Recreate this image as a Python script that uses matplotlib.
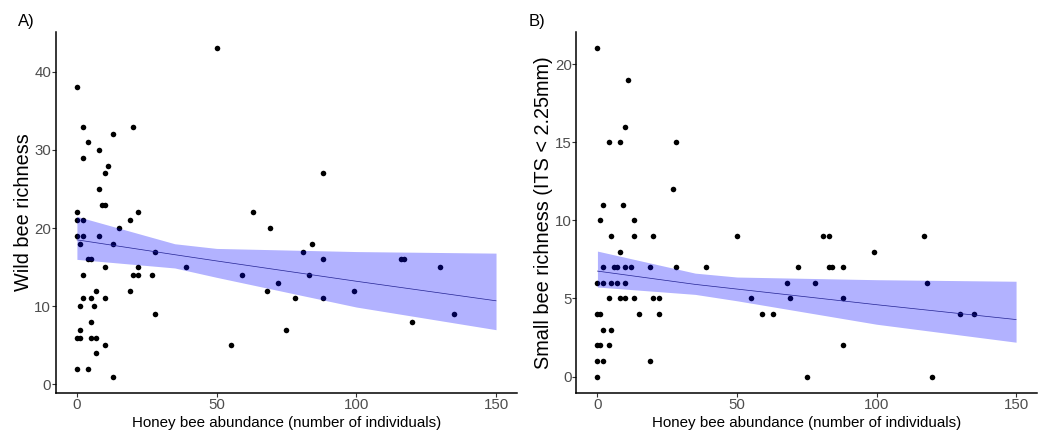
import matplotlib
matplotlib.use("Agg")
import matplotlib.pyplot as plt

plt.rcParams['font.family'] = ['Liberation Sans', 'DejaVu Sans']

# Panel A: honey bee abundance vs wild bee richness
hb_a = [50, 0, 2, 20, 13, 4, 8, 2, 11, 10, 8, 9, 10, 0, 22, 0, 2, 19, 15, 0, 2, 8,
        1, 13, 28, 4, 5, 10, 22, 39, 2, 20, 22, 27, 7, 19, 2, 5, 10, 1, 6, 28, 5,
        1, 0, 1, 5, 7, 10, 55, 7, 0, 4, 13,
        88, 63, 69, 84, 81, 88, 116, 117, 130, 59, 83, 72, 68, 99, 78, 88, 75, 135, 120]
wild = [43, 38, 33, 33, 32, 31, 30, 29, 28, 27, 25, 23, 23, 22, 22, 21, 21, 21, 20, 19, 19, 19,
        18, 18, 17, 16, 16, 15, 15, 15, 14, 14, 14, 14, 12, 12, 11, 11, 11, 10, 10, 9, 8,
        7, 6, 6, 6, 6, 5, 5, 4, 2, 2, 1,
        27, 22, 20, 18, 17, 16, 16, 16, 15, 14, 14, 13, 12, 12, 11, 11, 7, 9, 8]

# Panel B: honey bee abundance vs small bee richness
hb_b = [0, 11, 10, 4, 8, 28, 27, 2, 9, 1, 13, 5, 13, 20, 50, 8,
        2, 6, 7, 10, 12, 19, 28, 39, 0, 2, 5, 7, 10,
        4, 8, 10, 13, 20, 22, 0, 1, 15, 22, 2, 5, 0, 1, 4, 0, 2, 19, 0,
        81, 83, 117, 99, 72, 83, 84, 88, 68, 78, 118, 55, 69, 88, 59, 63, 130, 135, 88, 75, 120]
small = [21, 19, 16, 15, 15, 15, 12, 11, 11, 10, 10, 9, 9, 9, 9, 8,
         7, 7, 7, 7, 7, 7, 7, 7, 6, 6, 6, 6, 6,
         5, 5, 5, 5, 5, 5, 4, 4, 4, 4, 3, 3, 2, 2, 2, 1, 1, 1, 0,
         9, 9, 9, 8, 7, 7, 7, 7, 6, 6, 6, 5, 5, 5, 4, 4, 4, 4, 2, 0, 0]

# model predictions with confidence band
pred_x = [0, 35, 50, 100, 150]
fit_a = [18.5, 16.6, 15.8, 13.2, 10.7]
lo_a = [16.0, 14.9, 13.7, 9.9, 7.0]
hi_a = [21.5, 18.0, 17.4, 17.0, 16.8]
fit_b = [6.75, 5.9, 5.6, 4.6, 3.65]
lo_b = [5.73, 5.26, 4.85, 3.35, 2.2]
hi_b = [8.03, 6.62, 6.37, 6.2, 6.1]

fig = plt.figure(figsize=(10.44, 4.37), dpi=100)
ax_a = fig.add_axes([0.0536, 0.1007, 0.4416, 0.8261])
ax_b = fig.add_axes([0.5522, 0.1007, 0.4411, 0.8261])

panels = [
    (ax_a, hb_a, wild, fit_a, lo_a, hi_a, 'Wild bee richness', (-1.1, 45.1), [0, 10, 20, 30, 40]),
    (ax_b, hb_b, small, fit_b, lo_b, hi_b, 'Small bee richness (ITS < 2.25mm)', (-1.05, 22.05), [0, 5, 10, 15, 20]),
]

for ax, xs, ys, fit, lo, hi, ylab, ylim, yticks in panels:
    ax.scatter(xs, ys, s=16, color='black', linewidths=0, zorder=2)
    ax.plot(pred_x, fit, color='#333366', lw=0.5, zorder=3)
    ax.fill_between(pred_x, lo, hi, color='blue', alpha=0.3, linewidth=0, zorder=4)
    ax.set_xlim(-7.5, 157.5)
    ax.set_ylim(*ylim)
    ax.set_xticks([0, 50, 100, 150])
    ax.set_yticks(yticks)
    for side in ['top', 'right']:
        ax.spines[side].set_visible(False)
    for side in ['left', 'bottom']:
        ax.spines[side].set_linewidth(1.1)
    ax.tick_params(colors='#333333', labelcolor='#4d4d4d', labelsize=10.8, length=3, width=0.8, pad=0.5)
    ax.set_xlabel('Honey bee abundance (number of individuals)', fontsize=10.9, labelpad=3)
    ax.set_ylabel(ylab, fontsize=14.3, labelpad=1)

fig.text(0.017, 0.951, 'A)', fontsize=12, ha='left', va='center')
fig.text(0.506, 0.951, 'B)', fontsize=12, ha='left', va='center')

fig.savefig('out.png', dpi=100)
